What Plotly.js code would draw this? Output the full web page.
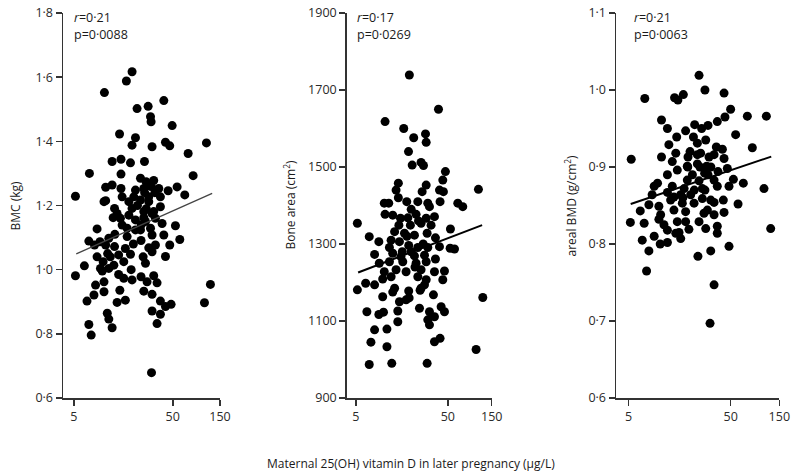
<!DOCTYPE html>
<html><head><meta charset="utf-8">
<script src="https://cdn.plot.ly/plotly-3.0.1.min.js"></script>
<style>html,body{margin:0;padding:0;background:#fff}#chart{width:800px;height:472px}</style>
</head><body><div id="chart"></div>
<script>
// Panel 1: BMC (kg) vs maternal 25(OH) vitamin D (µg/L)
const bmcVitD = [19.4,17.0,10.2,40.6,21.8,28.2,29.8,30.2,49.3,14.5,
21.0,19.4,30.9,42.2,46.6,109.4,71.5,12.2,15.0,18.7,
25.9,7.2,15.0,80.3,23.6,26.9,32.1,10.5,12.2,15.0,
21.0,25.5,30.2,36.1,44.9,55.3,5.2,10.5,15.4,20.2,
23.6,28.6,37.5,66.1,12.9,19.4,25.5,32.1,37.5,12.5,
14.8,25.5,30.9,33.4,15.4,21.0,26.5,39.0,8.6,17.3,
23.6,29.8,53.2,7.1,9.2,11.3,17.3,23.9,30.9,40.6,
8.1,10.5,12.9,16.6,28.6,33.4,46.6,58.9,8.6,11.7,
14.2,18.7,25.1,30.9,42.2,6.4,9.9,12.7,16.0,26.5,
5.2,9.7,14.2,19.4,23.9,32.1,8.3,10.1,16.0,27.5,
34.7,120.1,8.0,10.1,14.6,25.5,6.8,13.7,16.6,30.9,
37.5,48.1,104.5,42.2,10.9,11.3,30.9,37.5,7.1,12.2,
34.7,7.5,30.5,10.1,13.7,21.0,28.6,18.0,9.3,11.3,
22.0,27.0,18.0,24.0,13.0,20.0,11.0,19.0,33.0,26.0];
const bmcValues = [1.617,1.588,1.552,1.527,1.502,1.509,1.477,1.461,1.449,1.423,
1.411,1.388,1.383,1.397,1.386,1.395,1.362,1.337,1.344,1.333,
1.337,1.300,1.298,1.293,1.285,1.274,1.278,1.257,1.264,1.253,
1.248,1.253,1.259,1.253,1.246,1.258,1.229,1.215,1.227,1.227,
1.217,1.227,1.227,1.233,1.191,1.191,1.181,1.181,1.196,1.162,
1.160,1.162,1.175,1.160,1.139,1.155,1.150,1.144,1.127,1.129,
1.124,1.129,1.137,1.089,1.087,1.098,1.103,1.091,1.108,1.108,
1.077,1.077,1.072,1.066,1.068,1.077,1.077,1.094,1.040,1.040,
1.046,1.048,1.040,1.056,1.041,1.012,1.025,1.014,1.025,1.020,
0.981,0.996,0.985,0.968,0.978,0.981,0.952,0.962,0.973,0.962,
0.959,0.954,0.921,0.931,0.936,0.933,0.902,0.898,0.905,0.923,
0.902,0.892,0.897,0.885,0.864,0.846,0.871,0.861,0.829,0.819,
0.832,0.796,0.679,1.212,1.175,1.124,1.212,1.212,1.004,1.004,
1.200,1.190,1.170,1.140,1.110,1.080,1.050,1.000,1.240,1.240];
const bmcFitX = [5.3, 125];
const bmcFitY = [1.049, 1.238];

// Panel 2: Bone area (cm²)
const areaVitD = [19.1,39.6,10.4,16.6,21.3,28.6,29.1,18.7,20.5,25.6,
27.2,47.1,44.1,14.5,29.1,13.7,40.6,44.8,107.6,26.3,
14.5,10.2,11.4,17.9,23.6,30.3,41.2,31.6,64.2,72.7,
10.4,12.6,15.3,18.4,22.6,29.1,35.8,5.2,14.7,19.6,
25.6,32.9,53.4,16.9,21.7,29.8,7.0,8.9,12.1,14.9,
36.7,11.6,18.8,23.6,30.3,40.6,53.0,59.1,8.0,12.6,
15.5,21.7,27.9,9.0,11.6,16.2,22.6,29.1,36.7,10.2,
13.7,17.6,25.6,35.8,46.0,6.4,8.0,9.8,12.1,23.6,
29.1,44.1,5.2,9.8,12.6,18.8,25.6,27.9,34.9,14.9,
17.6,24.6,6.6,8.9,10.0,14.3,31.6,42.3,46.0,120.0,
14.3,30.3,35.8,8.0,10.9,31.6,7.3,10.9,35.8,41.2,
101.5,7.0,12.3,29.8,13.2,20.0,13.2,
20.0,24.0,18.0,27.0,22.0,16.0,25.0,19.0];
const areaValues = [1739,1650,1618,1600,1576,1586,1564,1540,1505,1512,
1504,1488,1466,1458,1453,1440,1440,1436,1442,1436,
1420,1406,1406,1410,1410,1406,1410,1397,1406,1397,
1377,1375,1367,1368,1377,1367,1371,1354,1349,1349,
1354,1349,1339,1328,1323,1328,1319,1306,1310,1306,
1316,1291,1296,1291,1291,1293,1289,1287,1273,1276,
1267,1269,1271,1250,1254,1254,1250,1254,1261,1228,
1233,1228,1233,1228,1230,1198,1194,1209,1215,1215,
1207,1207,1181,1163,1175,1178,1185,1194,1168,1150,
1155,1133,1124,1117,1123,1126,1124,1137,1124,1161,
1098,1103,1111,1077,1079,1090,1045,1033,1046,1055,
1026,987,990,990,1185,1280,1332,
1390,1360,1320,1300,1240,1280,1180,1160];
const areaFitX = [5.3, 118];
const areaFitY = [1226, 1349];

// Panel 3: areal BMD (g/cm²)
const bmdVitD = [24.5,28.0,43.1,7.2,14.1,15.2,17.2,50.0,72.9,112.0,
44.0,37.0,10.5,12.0,22.2,30.0,56.0,18.1,14.8,21.6,
23.6,28.5,36.2,41.5,81.6,5.3,12.4,14.5,10.5,19.1,
25.4,34.4,43.1,18.8,23.6,29.1,15.0,46.4,12.0,21.1,
27.8,37.6,9.6,13.4,18.8,24.5,34.4,53.2,66.6,106.2,
8.5,12.0,16.2,20.3,26.4,37.0,48.2,7.9,12.9,16.8,
26.4,34.4,42.4,59.1,6.5,10.3,13.9,18.1,29.6,43.1,
7.1,5.2,9.9,15.0,24.5,34.4,12.0,15.6,19.5,28.5,
37.0,123.5,6.8,8.9,10.2,12.0,16.2,37.0,7.9,31.9,
48.2,23.9,7.5,34.4,31.4,8.9,13.4,23.6,30.7,31.9,
17.5,13.9,9.9,21.9,27.4,14.5,11.1,18.1,
20.0,25.0,30.0,17.0,22.0,28.0,32.0,26.0,19.0];
const bmdValues = [1.019,1.000,0.996,0.989,0.990,0.987,0.994,0.975,0.966,0.966,
0.965,0.959,0.961,0.950,0.955,0.954,0.942,0.947,0.939,0.939,
0.931,0.935,0.926,0.923,0.925,0.910,0.929,0.918,0.913,0.913,
0.918,0.916,0.911,0.901,0.904,0.901,0.896,0.898,0.890,0.890,
0.892,0.894,0.879,0.875,0.883,0.882,0.883,0.884,0.879,0.872,
0.864,0.867,0.864,0.864,0.872,0.875,0.875,0.851,0.857,0.853,
0.859,0.854,0.857,0.852,0.843,0.838,0.844,0.842,0.844,0.841,
0.827,0.828,0.832,0.829,0.829,0.838,0.818,0.815,0.819,0.820,
0.823,0.820,0.805,0.810,0.800,0.802,0.807,0.814,0.791,0.791,
0.797,0.784,0.765,0.747,0.697,0.875,0.907,0.916,0.913,0.857,
0.872,0.861,0.849,0.853,0.840,0.814,0.825,0.829,
0.920,0.900,0.890,0.860,0.870,0.870,0.900,0.950,0.900];
const bmdFitX = [5.24, 125];
const bmdFitY = [0.852, 0.9135];

// Tick labels
const xTickVals = [5, 50, 150];
const xTickText = ['5', '50', '150'];
const bmcTickVals = [0.6, 0.8, 1.0, 1.2, 1.4, 1.6, 1.8];
const bmcTickText = ['0\u00b76','0\u00b78','1\u00b70','1\u00b72','1\u00b74','1\u00b76','1\u00b78'];
const areaTickVals = [900, 1100, 1300, 1500, 1700, 1900];
const areaTickText = ['900','1100','1300','1500','1700','1900'];
const bmdTickVals = [0.6, 0.7, 0.8, 0.9, 1.0, 1.1];
const bmdTickText = ['0\u00b76','0\u00b77','0\u00b78','0\u00b79','1\u00b70','1\u00b71'];

// Texts
const statsR = ['<i>r</i>=0\u00b721', '<i>r</i>=0\u00b717', '<i>r</i>=0\u00b721'];
const statsP = ['p=0\u00b70088', 'p=0\u00b70269', 'p=0\u00b70063'];
const yTitles = ['BMC (kg)', 'Bone area (cm<sup>2</sup>)', 'areal BMD (g/cm<sup>2</sup>)'];
const xTitle = 'Maternal 25(OH) vitamin D in later pregnancy (\u00b5g/L)';

const FONT = 'Open Sans, Lato, DejaVu Sans, sans-serif';
const AX = '#333333';
const W = 800, H = 472;
const px = v => v / W;
const py = v => 1 - v / H;

const marker = {color: '#000', size: 9, line: {width: 0}};
function pts(x, y, n) {
  return {x: x, y: y, type: 'scatter', mode: 'markers', marker: marker,
          xaxis: 'x' + n, yaxis: 'y' + n, hoverinfo: 'x+y'};
}
function fit(x, y, n, col, w) {
  return {x: x, y: y, type: 'scatter', mode: 'lines', line: {color: col, width: w},
          xaxis: 'x' + n, yaxis: 'y' + n, hoverinfo: 'skip'};
}
const data = [
  pts(bmcVitD, bmcValues, ''), fit(bmcFitX, bmcFitY, '', '#444', 1.3),
  pts(areaVitD, areaValues, '2'), fit(areaFitX, areaFitY, '2', '#000', 2),
  pts(bmdVitD, bmdValues, '3'), fit(bmdFitX, bmdFitY, '3', '#000', 2)
];

function xa(l, r, n) {
  const lo = Math.log10(150) - (r - l) / n;
  return {domain: [px(l), px(r)], type: 'log', range: [lo, Math.log10(150)],
    tickvals: xTickVals, ticktext: xTickText, ticks: 'outside', ticklen: 6, tickwidth: 1.5,
    tickcolor: AX, showline: true, linecolor: AX, linewidth: 1.5, showgrid: false,
    zeroline: false, tickfont: {family: FONT, size: 12.5, color: '#2a2a2a'}};
}
function ya(range, vals, text) {
  return {domain: [py(398), py(13)], range: range, tickvals: vals, ticktext: text,
    ticks: 'outside', ticklen: 6, tickwidth: 1.5, tickcolor: AX, showline: true,
    linecolor: AX, linewidth: 1.5, showgrid: false, zeroline: false,
    tickfont: {family: FONT, size: 12.5, color: '#2a2a2a'}};
}

const xa1 = xa(63, 220, 99);   xa1.anchor = 'y';
const xa2 = xa(346.7, 491.7, 92); xa2.anchor = 'y2';
const xa3 = xa(616, 779.3, 102); xa3.anchor = 'y3';
const ya1 = ya([0.6, 1.8], bmcTickVals, bmcTickText); ya1.anchor = 'x';
const ya2 = ya([900, 1900], areaTickVals, areaTickText); ya2.anchor = 'x2';
const ya3 = ya([0.6, 1.1], bmdTickVals, bmdTickText); ya3.anchor = 'x3';

const annFont = {family: FONT, size: 12.5, color: '#1a1a1a'};
const statX = [72, 355, 632];
const yTitleX = [15, 289, 570];
const annotations = [];
for (let i = 0; i < 3; i++) {
  annotations.push({xref: 'paper', yref: 'paper', x: px(statX[i]), y: py(17), text: statsR[i],
    showarrow: false, xanchor: 'left', yanchor: 'middle', font: annFont});
  annotations.push({xref: 'paper', yref: 'paper', x: px(statX[i]), y: py(34), text: statsP[i],
    showarrow: false, xanchor: 'left', yanchor: 'middle', font: annFont});
  annotations.push({xref: 'paper', yref: 'paper', x: px(yTitleX[i]), y: py(205.5), text: yTitles[i],
    textangle: -90, showarrow: false, xanchor: 'center', yanchor: 'middle',
    font: {family: FONT, size: 12, color: '#1a1a1a'}});
}
annotations.push({xref: 'paper', yref: 'paper', x: px(411), y: py(463), text: xTitle,
  showarrow: false, xanchor: 'center', yanchor: 'middle', font: {family: FONT, size: 12, color: '#1a1a1a'}});

const layout = {
  width: W, height: H, margin: {l: 0, r: 0, t: 0, b: 0},
  paper_bgcolor: '#fff', plot_bgcolor: '#fff', showlegend: false,
  xaxis: xa1, yaxis: ya1, xaxis2: xa2, yaxis2: ya2, xaxis3: xa3, yaxis3: ya3,
  annotations: annotations, font: {family: FONT}
};
Plotly.newPlot('chart', data, layout, {displayModeBar: false, staticPlot: true});
</script>
</body></html>
